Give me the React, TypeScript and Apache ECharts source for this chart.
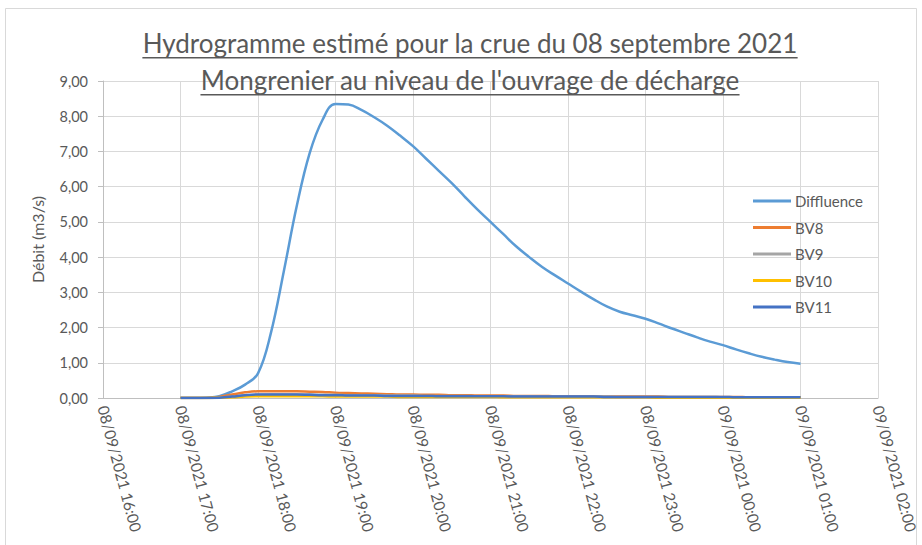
import React, { useEffect, useRef } from "react";
import * as echarts from "echarts";

// ---------- data ----------
const titleLines = [
  "Hydrogramme estimé pour la crue du 08 septembre 2021",
  "Mongrenier au niveau de l'ouvrage de décharge",
];
const yAxisName = "Débit (m3/s)";
const xTickLabels = [
  "08/09/2021 16:00",
  "08/09/2021 17:00",
  "08/09/2021 18:00",
  "08/09/2021 19:00",
  "08/09/2021 20:00",
  "08/09/2021 21:00",
  "08/09/2021 22:00",
  "08/09/2021 23:00",
  "09/09/2021 00:00",
  "09/09/2021 01:00",
  "09/09/2021 02:00",
];
const axisStartHour = 16;
const axisEndHour = 26;
const seriesStartHour = 17; // 08/09/2021 17:00
const stepMinutes = 10;

const seriesNames = ["Diffluence", "BV8", "BV9", "BV10", "BV11"];
const seriesColors = ["#5B9BD5", "#ED7D31", "#A5A5A5", "#FFC000", "#4472C4"];

const diffluence = [
  0, 0, 0.01, 0.05, 0.19, 0.38, 0.7,
  1.85, 3.6, 5.45, 6.95, 7.9, 8.35,
  8.33, 8.18, 7.97, 7.73, 7.45, 7.15,
  6.8, 6.45, 6.1, 5.72, 5.35, 5.0,
  4.65, 4.3, 4.0, 3.72, 3.48, 3.25,
  3.02, 2.8, 2.6, 2.45, 2.35, 2.25,
  2.12, 1.98, 1.85, 1.72, 1.6, 1.5,
  1.38, 1.27, 1.17, 1.09, 1.02, 0.97,
];
const bv8 = [
  0, 0, 0, 0.03, 0.1, 0.16, 0.19,
  0.19, 0.19, 0.19, 0.18, 0.17, 0.15,
  0.14, 0.13, 0.12, 0.11, 0.1, 0.1,
  0.09, 0.09, 0.08, 0.08, 0.07, 0.07,
  0.07, 0.06, 0.06, 0.06, 0.05, 0.05,
  0.05, 0.05, 0.04, 0.04, 0.04, 0.04,
  0.04, 0.03, 0.03, 0.03, 0.03, 0.03,
  0.03, 0.02, 0.02, 0.02, 0.02, 0.02,
];
const bv9 = [
  0, 0, 0, 0.01, 0.04, 0.07, 0.09,
  0.1, 0.1, 0.1, 0.1, 0.09, 0.09,
  0.08, 0.08, 0.08, 0.07, 0.07, 0.07,
  0.06, 0.06, 0.06, 0.06, 0.05, 0.05,
  0.05, 0.05, 0.05, 0.04, 0.04, 0.04,
  0.04, 0.04, 0.04, 0.03, 0.03, 0.03,
  0.03, 0.03, 0.03, 0.03, 0.03, 0.02,
  0.02, 0.02, 0.02, 0.02, 0.02, 0.02,
];
const bv10 = [
  0, 0, 0, 0.01, 0.02, 0.04, 0.05,
  0.05, 0.05, 0.05, 0.05, 0.05, 0.04,
  0.04, 0.04, 0.04, 0.04, 0.03, 0.03,
  0.03, 0.03, 0.03, 0.03, 0.03, 0.03,
  0.02, 0.02, 0.02, 0.02, 0.02, 0.02,
  0.02, 0.02, 0.02, 0.02, 0.02, 0.02,
  0.01, 0.01, 0.01, 0.01, 0.01, 0.01,
  0.01, 0.01, 0.01, 0.01, 0.01, 0.01,
];
const bv11 = [
  0, 0, 0, 0.01, 0.04, 0.08, 0.1,
  0.1, 0.1, 0.1, 0.09, 0.08, 0.08,
  0.07, 0.07, 0.07, 0.06, 0.06, 0.06,
  0.06, 0.05, 0.05, 0.05, 0.05, 0.05,
  0.05, 0.04, 0.04, 0.04, 0.04, 0.04,
  0.04, 0.04, 0.03, 0.03, 0.03, 0.03,
  0.03, 0.03, 0.03, 0.03, 0.03, 0.03,
  0.02, 0.02, 0.02, 0.02, 0.02, 0.02,
];
const seriesValues = [diffluence, bv8, bv9, bv10, bv11];

// ---------- chart ----------
const TEXT = "#595959";
const FONT = "Lato";

function measure(text: string, font: string): number {
  const c = document.createElement("canvas").getContext("2d");
  if (!c) return text.length * 10;
  c.font = font;
  return c.measureText(text).width;
}

export default function App() {
  const ref = useRef<HTMLDivElement>(null);

  useEffect(() => {
    document.body.style.margin = "0";
    if (!ref.current) return;
    const chart = echarts.init(ref.current, null, { renderer: "svg" });

    const titleSize = 26;
    const titleCenter = 470;
    const titleTops = [30, 67];
    const titleGraphics: any[] = [];
    titleLines.forEach((line, i) => {
      const w = measure(line, `${titleSize}px ${FONT}`);
      titleGraphics.push({
        type: "text",
        x: titleCenter,
        y: titleTops[i],
        style: {
          text: line,
          fill: TEXT,
          font: `${titleSize}px ${FONT}`,
          textAlign: "center",
          textVerticalAlign: "top",
        },
        z: 100,
      });
      titleGraphics.push({
        type: "rect",
        shape: { x: titleCenter - w / 2, y: titleTops[i] + titleSize + 1, width: w, height: 1.5 },
        style: { fill: TEXT },
        z: 100,
      });
    });

    const option: any = {
      animation: false,
      backgroundColor: "#ffffff",
      textStyle: { fontFamily: FONT },
      graphic: [
        {
          type: "rect",
          shape: { x: 5.5, y: 8.5, width: 911, height: 560 },
          style: { fill: "none", stroke: "#D9D9D9", lineWidth: 1 },
          z: 0,
        },
        ...titleGraphics,
      ],
      grid: { left: 103, right: 44, top: 81, bottom: 147, containLabel: false },
      legend: {
        data: seriesNames,
        orient: "vertical",
        left: 748,
        top: 188,
        icon: "rect",
        itemWidth: 38,
        itemHeight: 3,
        itemGap: 10.5,
        textStyle: { color: TEXT, fontSize: 15, lineHeight: 16, fontFamily: FONT, padding: [0, 0, 0, -1] },
      },
      xAxis: {
        type: "value",
        min: axisStartHour,
        max: axisEndHour,
        interval: 1,
        axisLine: { show: true, lineStyle: { color: "#BFBFBF", width: 1 } },
        axisTick: { show: false },
        splitLine: { show: true, lineStyle: { color: "#D9D9D9", width: 1 } },
        axisLabel: {
          rotate: -75,
          color: TEXT,
          fontSize: 15.5,
          fontFamily: FONT,
          margin: 8,
          showMinLabel: true,
          showMaxLabel: true,
          formatter: (v: number) => xTickLabels[Math.round(v - axisStartHour)] ?? "",
        },
      },
      yAxis: {
        type: "value",
        min: 0,
        max: 9,
        interval: 1,
        name: yAxisName,
        nameLocation: "middle",
        nameGap: 58,
        nameRotate: 90,
        nameTextStyle: { color: TEXT, fontSize: 16, fontFamily: FONT },
        axisLine: { show: true, lineStyle: { color: "#BFBFBF", width: 1 } },
        axisTick: { show: true, length: 5, lineStyle: { color: "#BFBFBF" } },
        splitLine: { show: true, lineStyle: { color: "#D9D9D9", width: 1 } },
        axisLabel: {
          color: TEXT,
          fontSize: 14.5,
          fontFamily: FONT,
          margin: 15,
          formatter: (v: number) => v.toFixed(2).replace(".", ","),
        },
      },
      series: seriesNames.map((name, si) => ({
        name,
        type: "line",
        smooth: 0.4,
        showSymbol: false,
        symbol: "none",
        color: seriesColors[si],
        lineStyle: { color: seriesColors[si], width: 2.5 },
        z: 2 + si,
        data: seriesValues[si].map((v, i) => [seriesStartHour + (i * stepMinutes) / 60, v]),
      })),
    };

    chart.setOption(option);
    return () => chart.dispose();
  }, []);

  return <div ref={ref} style={{ width: 922, height: 545 }} />;
}
